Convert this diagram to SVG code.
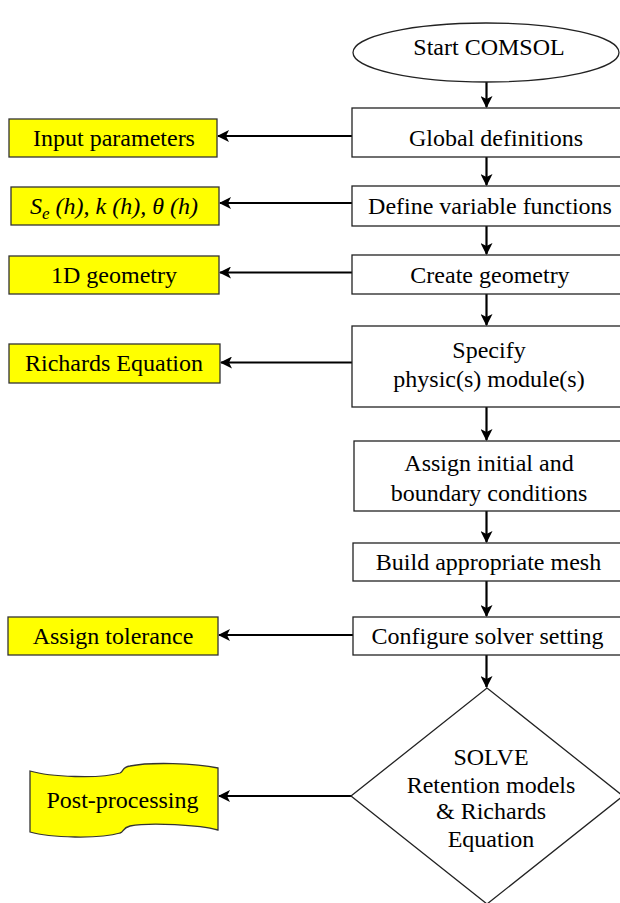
<svg xmlns="http://www.w3.org/2000/svg" width="620" height="903" viewBox="0 0 620 903">
<defs>
<style>
.t{font-family:"Liberation Serif","Times New Roman",serif;font-size:24px;fill:#000;text-anchor:middle}
.box{fill:#fff;stroke:#222;stroke-width:1.3}
.yel{fill:#ffff00;stroke:#333;stroke-width:1.3}
.ar{fill:none;stroke:#000;stroke-width:2.2;marker-end:url(#ah)}
</style>
<marker id="ah" viewBox="0 0 12 12" refX="11" refY="6" markerWidth="12" markerHeight="12" markerUnits="userSpaceOnUse" orient="auto">
<path d="M0,0 L12,6 L0,12 L3,6 Z" fill="#000"/>
</marker>
</defs>
<rect width="620" height="903" fill="#fff"/>

<g id="connectors">
<path class="ar" d="M486.5,82 V107"/>
<path class="ar" d="M486.5,157 V185"/>
<path class="ar" d="M486.5,226 V254"/>
<path class="ar" d="M486.5,294 V325"/>
<path class="ar" d="M486.5,407 V440"/>
<path class="ar" d="M486.5,511 V542"/>
<path class="ar" d="M486.5,581 V616"/>
<path class="ar" d="M486.5,655 V687"/>
<path class="ar" d="M352,136 H218"/>
<path class="ar" d="M352,203 H220"/>
<path class="ar" d="M352,272.5 H220"/>
<path class="ar" d="M352,362.5 H221"/>
<path class="ar" d="M353,635 H219"/>
<path class="ar" d="M351,796 H219"/>
</g>

<g id="start">
<ellipse cx="486" cy="52.5" rx="133" ry="29.5" class="box"/>
<text class="t" x="489" y="55">Start COMSOL</text>
</g>
<g id="global">
<rect x="352" y="108" width="290" height="49" class="box"/>
<text class="t" x="496" y="146">Global definitions</text>
</g>
<g id="define">
<rect x="352" y="186" width="290" height="40" class="box"/>
<text class="t" x="490" y="214">Define variable functions</text>
</g>
<g id="create">
<rect x="352" y="255" width="290" height="39" class="box"/>
<text class="t" x="490" y="283">Create geometry</text>
</g>
<g id="specify">
<rect x="352" y="326" width="290" height="81" class="box"/>
<text class="t" x="489" y="358">Specify</text>
<text class="t" x="489" y="387">physic(s) module(s)</text>
</g>
<g id="assign">
<rect x="354" y="441" width="290" height="70" class="box"/>
<text class="t" x="489" y="471">Assign initial and</text>
<text class="t" x="489" y="501">boundary conditions</text>
</g>
<g id="mesh">
<rect x="353" y="543" width="290" height="38" class="box"/>
<text class="t" x="488.5" y="570">Build appropriate mesh</text>
</g>
<g id="solver">
<rect x="353" y="617" width="290" height="38" class="box"/>
<text class="t" x="487.5" y="644">Configure solver setting</text>
</g>
<g id="solve">
<path d="M487,688 L623,796 L487,904 L351,796 Z" class="box"/>
<text class="t" x="491" y="765">SOLVE</text>
<text class="t" x="491" y="793">Retention models</text>
<text class="t" x="491" y="819">&amp; Richards</text>
<text class="t" x="491" y="847">Equation</text>
</g>

<g id="input">
<rect x="9" y="119" width="208" height="38" class="yel"/>
<text class="t" x="114" y="146">Input parameters</text>
</g>
<g id="functions">
<rect x="11" y="187" width="208" height="38" class="yel"/>
<text class="t" x="114" y="214" font-style="italic">S<tspan font-size="17" dy="5">e</tspan><tspan dy="-5"> (h), k (h), θ (h)</tspan></text>
</g>
<g id="geometry">
<rect x="9" y="256" width="210" height="38" class="yel"/>
<text class="t" x="114" y="283">1D geometry</text>
</g>
<g id="richards">
<rect x="9" y="344" width="211" height="39" class="yel"/>
<text class="t" x="114" y="371">Richards Equation</text>
</g>
<g id="tolerance">
<rect x="8" y="617" width="210" height="38" class="yel"/>
<text class="t" x="113" y="644">Assign tolerance</text>
</g>
<g id="post">
<path d="M30,771 C50,777 100,779 120,773 C124,771 122,767 130,766 C150,762 195,763 218,768 L218,830 C200,825 150,822 130,826 C122,828 124,832 120,833 C100,839 50,838 30,832 Z" class="yel"/>
<text class="t" x="122.5" y="808">Post-processing</text>
</g>
</svg>
